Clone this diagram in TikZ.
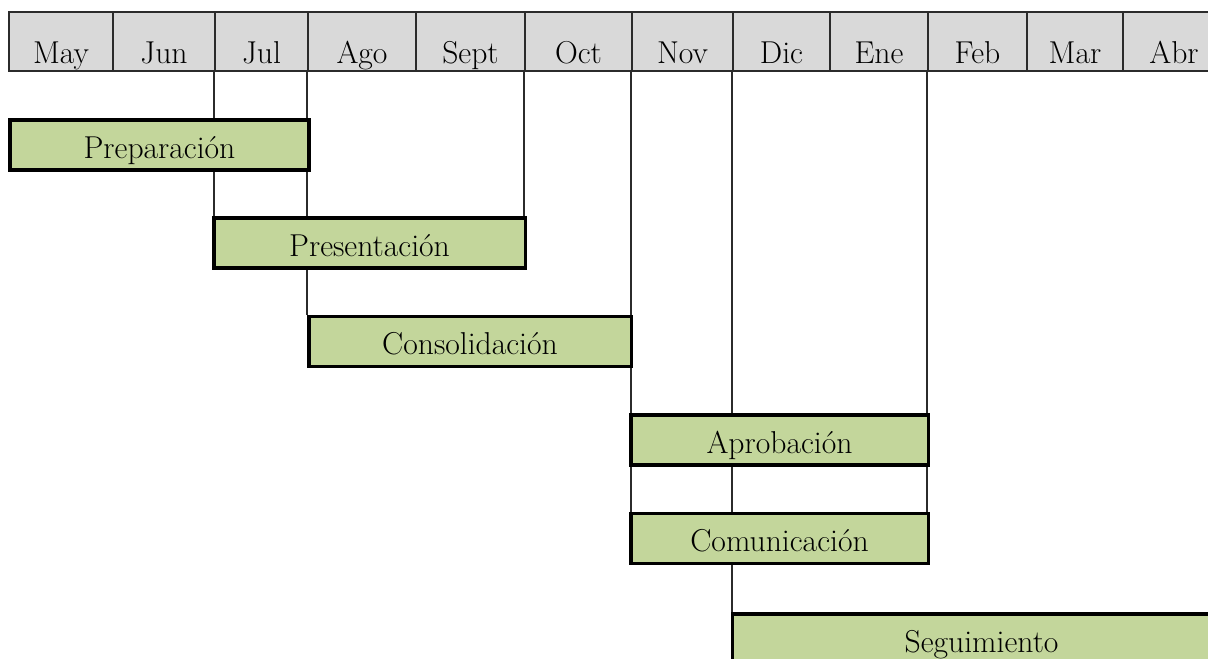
\documentclass[tikz,border=0pt]{standalone}
\usepackage{tikz}
\usetikzlibrary{positioning}
\usetikzlibrary{backgrounds}

\definecolor{headgray}{HTML}{D9D9D9}
\definecolor{phasegreen}{HTML}{C3D69B}
\definecolor{gridline}{HTML}{2B2B2B}

\tikzset{
  month/.style={draw=gridline, line width=1.1pt, fill=headgray, inner sep=0pt,
                minimum height=1.475cm, text height=1.275cm, text depth=0.2cm,
                font=\fontsize{22.5}{26}\selectfont},
  phase/.style={draw=black, line width=2.2pt, fill=phasegreen, inner sep=0pt,
                minimum height=1.25cm, text height=0.95cm, text depth=0.3cm,
                font=\fontsize{22.5}{26}\selectfont},
  guide/.style={draw=gridline, line width=1.1pt}
}

\begin{document}
\begin{tikzpicture}[x=0.025cm, y=-0.025cm]
	\useasboundingbox (0,0) rectangle (1208,658);
	\clip (0,0) rectangle (1208,658);

	% month header
	\begin{scope}[every node/.style={month}]
		\node[minimum width=2.6cm]   (may)  at (61,41.5)     {May};
		\node[minimum width=2.55cm]  (jun)  at (164,41.5)    {Jun};
		\node[minimum width=2.325cm] (jul)  at (261.5,41.5)  {Jul};
		\node[minimum width=2.7cm]   (ago)  at (362,41.5)    {Ago};
		\node[minimum width=2.725cm] (sept) at (470.5,41.5)  {Sept};
		\node[minimum width=2.675cm] (oct)  at (578.5,41.5)  {Oct};
		\node[minimum width=2.525cm] (nov)  at (682.5,41.5)  {Nov};
		\node[minimum width=2.425cm] (dic)  at (781.5,41.5)  {Dic};
		\node[minimum width=2.45cm]  (ene)  at (879,41.5)    {Ene};
		\node[minimum width=2.475cm] (feb)  at (977.5,41.5)  {Feb};
		\node[minimum width=2.4cm]   (mar)  at (1075,41.5)   {Mar};
		\node[minimum width=2.55cm]  (abr)  at (1174,41.5)   {Abr};
	\end{scope}

	% phases
	\begin{scope}[every node/.style={phase}]
		\node[minimum width=7.475cm] (prep)    at (159.5,145)  {Preparación};
		\node[minimum width=7.775cm] (present) at (369.5,243)  {Presentación};
		\node[minimum width=8.05cm]  (consol)  at (470,341.5)  {Consolidación};
		\node[minimum width=7.425cm] (aprob)   at (779.5,440)  {Aprobación};
		\node[minimum width=7.425cm] (comun)   at (779.5,538.5) {Comunicación};
		\node[minimum width=12.425cm] (seguim) at (981.5,639)  {Seguimiento};
	\end{scope}

	% guide lines behind the phases
	\begin{scope}[on background layer]
		\path[guide] (jul.south west) -- (jul.south west |- present.north);
		\path[guide] (ago.south west) -- (ago.south west |- consol.north);
		\path[guide] (oct.south west) -- (oct.south west |- present.north);
		\path[guide] (nov.south west) -- (nov.south west |- comun.north);
		\path[guide] (dic.south west) -- (dic.south west |- seguim.north);
		\path[guide] (feb.south west) -- (feb.south west |- comun.north);
	\end{scope}
\end{tikzpicture}
\end{document}
